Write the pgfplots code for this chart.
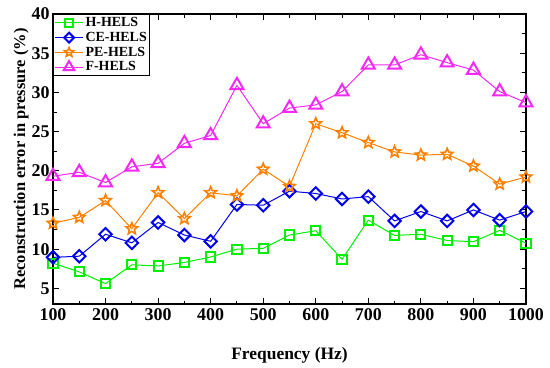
\documentclass[border=0pt]{standalone}
\usepackage{pgfplots}
\pgfplotsset{compat=1.18}
\usepackage{fontspec}
\setmainfont{Liberation Serif}
\definecolor{colG}{RGB}{0,240,0}
\definecolor{colB}{RGB}{0,0,240}
\definecolor{colO}{RGB}{255,128,0}
\definecolor{colM}{RGB}{245,40,245}
\pgfdeclareplotmark{ostar}{%
  \pgfpathmoveto{\pgfpointpolar{90}{\pgfplotmarksize}}%
  \pgfpathlineto{\pgfpointpolar{126}{0.45\pgfplotmarksize}}%
  \pgfpathlineto{\pgfpointpolar{162}{\pgfplotmarksize}}%
  \pgfpathlineto{\pgfpointpolar{198}{0.45\pgfplotmarksize}}%
  \pgfpathlineto{\pgfpointpolar{234}{\pgfplotmarksize}}%
  \pgfpathlineto{\pgfpointpolar{270}{0.45\pgfplotmarksize}}%
  \pgfpathlineto{\pgfpointpolar{306}{\pgfplotmarksize}}%
  \pgfpathlineto{\pgfpointpolar{342}{0.45\pgfplotmarksize}}%
  \pgfpathlineto{\pgfpointpolar{18}{\pgfplotmarksize}}%
  \pgfpathlineto{\pgfpointpolar{54}{0.45\pgfplotmarksize}}%
  \pgfpathclose
  \pgfusepathqstroke}
\begin{document}
\begin{tikzpicture}
\path[use as bounding box] (-53bp,-64bp) rectangle (497bp,304bp);
\begin{axis}[
  at={(0,0)}, anchor=south west,
  scale only axis, width=473bp, height=290bp,
  xmin=100, xmax=1000, ymin=3, ymax=40,
  xtick={100,200,...,1000}, minor x tick num=1,
  ytick={5,10,...,40}, minor y tick num=1,
  tick align=inside, tick pos=both,
  major tick length=6bp, minor tick length=3.5bp,
  every tick/.style={black, line width=0.9pt},
  axis line style={line width=1.1pt},
  /pgf/number format/assume math mode=true,
  /pgf/number format/1000 sep={},
  ticklabel style={font=\bfseries\fontsize{18}{18}\selectfont},
  xticklabel style={yshift=-1bp},
  xlabel={\bfseries Frequency (Hz)},
  ylabel={\bfseries Reconstruction error in pressure (\%)},
  xlabel style={font=\fontsize{17.5}{18}\selectfont, yshift=-20bp},
  ylabel style={font=\fontsize{16.5}{17}\selectfont, yshift=-4bp},
  legend style={at={(0,1)}, anchor=north west, draw=black, line width=1.1pt,
    font=\bfseries\fontsize{14}{15}\selectfont, inner sep=1bp, row sep=0bp,
    cells={anchor=west}},
  legend image code/.code={%
    \draw[mark repeat=2,mark phase=2, mark size=0.8*\pgfplotmarksize]
      plot coordinates {(0bp,0bp) (14bp,0bp) (28bp,0bp)};},
  legend cell align=left,
]
\addplot[colG, line width=1pt, mark=square, mark size=4.6bp, mark options={line width=2pt, solid}]
coordinates {(100,8.2)(150,7.1)(200,5.6)(250,8.0)(300,7.85)(350,8.3)(400,9.0)(450,10.0)(500,10.1)(550,11.8)(600,12.35)(650,8.7)(700,13.7)(750,11.75)(800,11.9)(850,11.1)(900,10.95)(950,12.4)(1000,10.75)};
\addlegendentry{H-HELS}
\addplot[colB, line width=1pt, mark=square, mark size=4.4bp, mark options={line width=2pt, solid, rotate=45}]
coordinates {(100,8.95)(150,9.1)(200,11.9)(250,10.8)(300,13.4)(350,11.8)(400,11.0)(450,15.7)(500,15.6)(550,17.4)(600,17.1)(650,16.4)(700,16.7)(750,13.6)(800,14.8)(850,13.6)(900,15.0)(950,13.7)(1000,14.8)};
\addlegendentry{CE-HELS}
\addplot[colO, line width=1pt, mark=ostar, mark size=6bp, mark options={line width=1.6pt, solid}]
coordinates {(100,13.3)(150,14.05)(200,16.2)(250,12.6)(300,17.2)(350,13.9)(400,17.2)(450,16.8)(500,20.2)(550,18.0)(600,26.0)(650,24.85)(700,23.6)(750,22.4)(800,22.0)(850,22.1)(900,20.6)(950,18.3)(1000,19.2)};
\addlegendentry{PE-HELS}
\addplot[colM, line width=1pt, mark=triangle, mark size=7.5bp, mark options={line width=2pt, solid}]
coordinates {(100,19.3)(150,19.8)(200,18.5)(250,20.5)(300,20.95)(350,23.5)(400,24.5)(450,30.9)(500,26.0)(550,28.0)(600,28.4)(650,30.1)(700,33.5)(750,33.5)(800,34.8)(850,33.8)(900,32.85)(950,30.1)(1000,28.7)};
\addlegendentry{F-HELS}
\end{axis}
\end{tikzpicture}
\end{document}
